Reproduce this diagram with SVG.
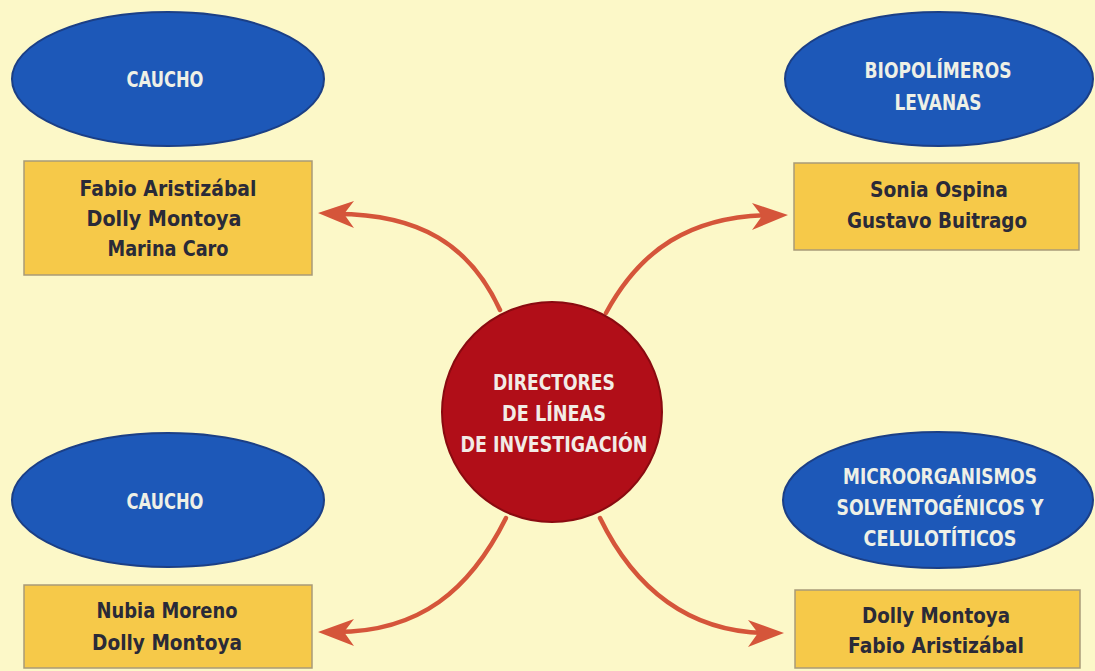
<svg xmlns="http://www.w3.org/2000/svg" width="1095" height="671" viewBox="0 0 1095 671">
<defs>
<style>
.bg{fill:#fcf8c8}
.ell{fill:#1d58b8;stroke:#1b3f86;stroke-width:2}
.box{fill:#f6c949;stroke:#a89a78;stroke-width:1.5}
.et{font-family:"DejaVu Sans",sans-serif;font-size:21px;font-weight:bold;fill:#eef0e6;text-anchor:middle}
.bt{font-family:"DejaVu Sans",sans-serif;font-size:22px;font-weight:bold;fill:#2a2a38;text-anchor:middle}
.ct{font-family:"DejaVu Sans",sans-serif;font-size:22px;font-weight:bold;fill:#f2ece6;text-anchor:middle}
.arr{fill:none;stroke:#d5553a;stroke-width:4.5;stroke-linecap:round}
.head{fill:#d5553a}
</style>
</defs>
<rect class="bg" x="0" y="0" width="1095" height="671"/>
<g id="connectors">
<path class="arr" d="M500,310 C470,245 420,214 336,214"/>
<path class="head" d="M318,213 L354,201 L344,214 L354,228 Z"/>
<path class="arr" d="M606,313 C640,250 690,216 770,215"/>
<path class="head" d="M788,215 L752,203 L762,216 L752,230 Z"/>
<path class="arr" d="M506,518 C470,590 420,632 336,632"/>
<path class="head" d="M318,632 L354,619 L344,632 L354,646 Z"/>
<path class="arr" d="M600,518 C635,590 690,632 766,633"/>
<path class="head" d="M784,633 L748,620 L758,633 L748,647 Z"/>
</g>
<g id="center">
<circle cx="552" cy="412" r="110" fill="#b10e18" stroke="#8a0a10" stroke-width="2"/>
<text class="ct" x="554" y="390" textLength="122" lengthAdjust="spacingAndGlyphs">DIRECTORES</text>
<text class="ct" x="554" y="421" textLength="104" lengthAdjust="spacingAndGlyphs">DE LÍNEAS</text>
<text class="ct" x="554" y="452" textLength="187" lengthAdjust="spacingAndGlyphs">DE INVESTIGACIÓN</text>
</g>
<g id="caucho1">
<ellipse class="ell" cx="168" cy="79" rx="156" ry="67"/>
<text class="et" x="165" y="87" textLength="77" lengthAdjust="spacingAndGlyphs">CAUCHO</text>
</g>
<g id="dir1">
<rect class="box" x="24" y="161" width="288" height="114"/>
<text class="bt" x="168" y="196" textLength="177" lengthAdjust="spacingAndGlyphs">Fabio Aristizábal</text>
<text class="bt" x="164" y="226" textLength="155" lengthAdjust="spacingAndGlyphs">Dolly Montoya</text>
<text class="bt" x="168" y="256" textLength="121" lengthAdjust="spacingAndGlyphs">Marina Caro</text>
</g>
<g id="biopolimeros">
<ellipse class="ell" cx="939" cy="79" rx="154" ry="67"/>
<text class="et" x="938" y="78" textLength="147" lengthAdjust="spacingAndGlyphs">BIOPOLÍMEROS</text>
<text class="et" x="938" y="110" textLength="87" lengthAdjust="spacingAndGlyphs">LEVANAS</text>
</g>
<g id="dir2">
<rect class="box" x="794" y="163" width="285" height="87"/>
<text class="bt" x="939" y="197" textLength="138" lengthAdjust="spacingAndGlyphs">Sonia Ospina</text>
<text class="bt" x="937" y="228" textLength="180" lengthAdjust="spacingAndGlyphs">Gustavo Buitrago</text>
</g>
<g id="caucho2">
<ellipse class="ell" cx="168" cy="500" rx="156" ry="67"/>
<text class="et" x="165" y="509" textLength="77" lengthAdjust="spacingAndGlyphs">CAUCHO</text>
</g>
<g id="dir3">
<rect class="box" x="24" y="585" width="288" height="83"/>
<text class="bt" x="167" y="618" textLength="141" lengthAdjust="spacingAndGlyphs">Nubia Moreno</text>
<text class="bt" x="167" y="650" textLength="150" lengthAdjust="spacingAndGlyphs">Dolly Montoya</text>
</g>
<g id="microorganismos">
<ellipse class="ell" cx="938" cy="500" rx="155" ry="68"/>
<text class="et" x="940" y="484" textLength="194" lengthAdjust="spacingAndGlyphs">MICROORGANISMOS</text>
<text class="et" x="940" y="515" textLength="207" lengthAdjust="spacingAndGlyphs">SOLVENTOGÉNICOS Y</text>
<text class="et" x="940" y="546" textLength="153" lengthAdjust="spacingAndGlyphs">CELULOTÍTICOS</text>
</g>
<g id="dir4">
<rect class="box" x="795" y="590" width="285" height="78"/>
<text class="bt" x="936" y="623" textLength="148" lengthAdjust="spacingAndGlyphs">Dolly Montoya</text>
<text class="bt" x="936" y="653" textLength="176" lengthAdjust="spacingAndGlyphs">Fabio Aristizábal</text>
</g>
</svg>
